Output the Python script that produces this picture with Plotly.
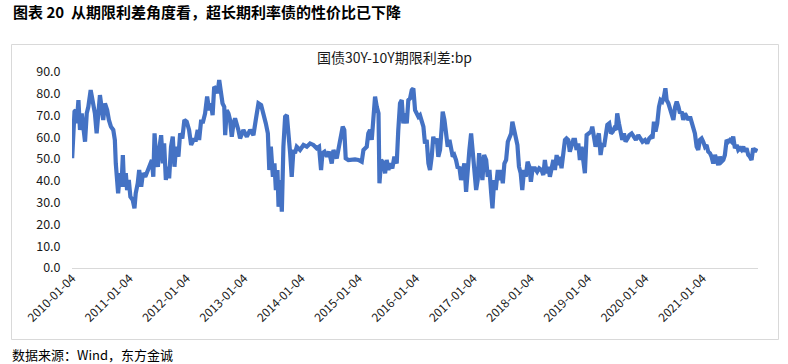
import plotly.graph_objects as go

W, H = 788, 364

dates = [
"2010-01-04","2010-01-07","2010-01-19","2010-01-27","2010-02-02","2010-02-13","2010-02-23","2010-03-06","2010-03-17","2010-03-27",
"2010-04-07","2010-04-17","2010-05-02","2010-05-14","2010-05-29","2010-06-09","2010-06-19","2010-06-30","2010-07-10","2010-07-21",
"2010-08-01","2010-08-15","2010-08-26","2010-09-08","2010-09-23","2010-10-03","2010-10-09","2010-10-18","2010-10-24","2010-11-04",
"2010-11-14","2010-11-23","2010-12-01","2010-12-12","2010-12-20","2010-12-31","2011-01-10","2011-01-25","2011-02-05","2011-02-13",
"2011-02-26","2011-03-07","2011-03-20","2011-03-31","2011-04-15","2011-05-02","2011-05-17","2011-05-27","2011-06-05","2011-06-13",
"2011-06-24","2011-07-04","2011-07-15","2011-07-25","2011-08-05","2011-08-13","2011-08-24","2011-09-03","2011-09-14","2011-09-26",
"2011-10-07","2011-10-18","2011-10-28","2011-11-12","2011-11-23","2011-12-07","2011-12-20","2012-01-04","2012-01-19","2012-02-01",
"2012-02-16","2012-03-02","2012-03-14","2012-03-23","2012-04-04","2012-04-17","2012-04-30","2012-05-13","2012-05-26","2012-06-06",
"2012-06-17","2012-06-27","2012-07-08","2012-07-18","2012-07-29","2012-08-08","2012-08-19","2012-08-30","2012-09-05","2012-09-15",
"2012-09-26","2012-10-06","2012-10-17","2012-10-28",
"2012-11-07","2012-11-28","2012-12-09","2012-12-30","2013-01-21","2013-02-11","2013-03-04","2013-03-19","2013-04-05","2013-04-22",
"2013-05-07","2013-05-22","2013-06-04","2013-06-13","2013-06-23","2013-07-06","2013-07-16","2013-07-25","2013-08-04","2013-08-11",
"2013-08-21","2013-09-01","2013-09-11","2013-09-22","2013-10-03","2013-10-13","2013-10-24","2013-11-03","2013-11-14","2013-11-24",
"2013-12-05","2013-12-26","2014-01-17","2014-02-07","2014-02-28","2014-03-21","2014-04-11","2014-04-26","2014-05-09","2014-05-18",
"2014-05-31","2014-06-15","2014-06-29","2014-07-16","2014-07-27","2014-08-07","2014-08-17","2014-08-31","2014-09-13","2014-09-24",
"2014-10-04","2014-10-13","2014-10-30","2014-11-20","2014-12-11","2015-01-02","2015-01-23","2015-02-03","2015-02-13","2015-02-24",
"2015-03-06","2015-03-17","2015-03-28","2015-04-08","2015-04-18","2015-04-29","2015-05-10","2015-05-16","2015-05-27","2015-06-10",
"2015-06-21","2015-07-01","2015-07-12","2015-07-22","2015-08-06","2015-08-19","2015-09-03","2015-09-13","2015-09-24","2015-10-05",
"2015-10-15",
"2015-10-26","2015-11-06","2015-11-16","2015-11-27","2015-12-08","2015-12-18","2015-12-29","2016-01-08","2016-01-19","2016-01-29",
"2016-02-09","2016-02-20","2016-03-01","2016-03-12","2016-03-23","2016-04-02","2016-04-13","2016-04-23","2016-05-04","2016-05-15",
"2016-05-25","2016-06-05","2016-06-16","2016-06-22","2016-07-03","2016-07-13","2016-07-24","2016-08-04","2016-08-14","2016-08-25",
"2016-09-04","2016-09-15","2016-09-26","2016-10-06","2016-10-17","2016-10-27","2016-11-07","2016-11-18","2016-11-28","2016-12-09",
"2016-12-20","2016-12-30","2017-01-10","2017-01-21","2017-01-31","2017-02-09","2017-02-19","2017-03-02","2017-03-13","2017-03-26",
"2017-04-05","2017-04-16","2017-04-27","2017-05-05","2017-05-16","2017-05-26","2017-06-08","2017-06-19","2017-06-29","2017-07-10",
"2017-07-20","2017-07-31","2017-08-11","2017-08-21","2017-09-01","2017-09-09","2017-09-20","2017-09-30","2017-10-11","2017-10-21",
"2017-11-01","2017-11-11","2017-11-22","2017-12-03","2017-12-15","2017-12-26","2018-01-05","2018-01-16","2018-01-31","2018-02-14",
"2018-02-27","2018-03-14","2018-03-25","2018-04-04","2018-04-15","2018-04-26","2018-05-06","2018-05-17","2018-05-28","2018-06-07",
"2018-06-18","2018-06-28","2018-07-09","2018-07-19","2018-07-30","2018-08-10","2018-08-20","2018-08-31","2018-09-10","2018-09-21",
"2018-10-02",
"2018-10-13","2018-10-23","2018-11-03","2018-11-13","2018-11-24","2018-12-04","2018-12-15","2018-12-26","2019-01-10","2019-01-23",
"2019-01-31","2019-02-11","2019-02-21","2019-03-04","2019-03-14","2019-03-25","2019-04-05","2019-04-16","2019-04-26","2019-05-07",
"2019-05-19","2019-05-30","2019-06-10","2019-06-20","2019-07-01","2019-07-09","2019-07-20","2019-07-31","2019-08-10","2019-08-21",
"2019-08-31","2019-09-13","2019-09-24","2019-10-09","2019-10-23","2019-11-05","2019-11-20","2019-12-04","2019-12-17","2020-01-02",
"2020-01-16","2020-01-29","2020-02-09","2020-02-19","2020-02-28","2020-03-09","2020-03-20","2020-03-31","2020-04-10","2020-04-21",
"2020-05-02","2020-05-11","2020-05-19","2020-05-30","2020-06-10","2020-06-20","2020-07-01","2020-07-12","2020-07-22","2020-08-02",
"2020-08-12","2020-08-23","2020-09-02","2020-09-13","2020-09-23","2020-10-04","2020-10-15","2020-10-25","2020-11-05","2020-11-15",
"2020-11-26","2020-12-06","2020-12-17","2020-12-28","2021-01-07","2021-01-18","2021-01-28","2021-02-08","2021-02-19","2021-03-01",
"2021-03-12","2021-03-23","2021-04-02","2021-04-13","2021-04-23","2021-05-04","2021-05-15","2021-05-25","2021-06-05","2021-06-16",
"2021-06-26","2021-07-07","2021-07-17","2021-07-28","2021-08-08","2021-08-18","2021-08-29","2021-09-08","2021-09-19","2021-09-29",
"2021-10-10","2021-10-21","2021-10-31","2021-11-11","2021-11-21","2021-12-02","2021-12-13",
]

spread_bp = [
50.4,57.2,71.8,72.5,66.4,77.1,63.4,71.0,63.4,58.0,
71.0,74.0,81.7,75.6,71.0,61.8,71.0,79.4,74.0,68.0,
75.6,72.5,68.0,64.9,63.4,58.8,48.0,41.9,34.3,43.5,
37.3,51.9,37.3,43.6,35.8,40.4,32.7,31.2,27.4,34.3,
38.9,45.0,37.3,43.5,41.9,45.0,47.3,49.6,41.9,61.8,
49.6,46.5,55.7,61.0,48.0,57.2,40.4,46.5,41.2,55.7,
60.3,46.5,55.7,51.1,61.8,59.5,68.0,67.2,63.4,56.5,
58.8,58.8,63.4,58.8,67.2,67.2,71.0,78.7,72.5,75.6,
70.2,83.2,82.5,80.2,86.3,80.2,75.6,74.0,61.0,72.5,
71.0,68.0,60.3,66.4,
68.7,63.4,59.5,63.4,60.3,63.4,61.0,68.0,75.6,74.8,
71.0,66.4,61.8,45.0,55.7,41.9,48.0,35.8,45.0,28.1,
40.4,25.9,55.7,69.5,70.2,63.4,52.7,41.9,54.2,52.7,
55.7,54.2,56.5,55.7,57.2,56.5,55.0,55.7,45.0,52.7,
53.4,51.1,53.4,48.0,54.2,51.9,50.4,55.7,60.3,64.9,
63.4,50.4,49.6,49.9,49.9,49.6,48.8,54.2,55.0,55.7,
61.8,63.4,58.8,71.0,78.7,74.0,71.0,38.9,49.6,48.0,
43.5,49.6,45.0,48.0,45.8,51.1,48.0,63.4,75.6,77.1,
66.4,
71.0,66.4,77.1,77.9,81.7,82.5,72.5,71.0,69.5,70.2,
67.2,64.9,57.2,58.8,48.0,45.0,51.1,60.3,57.2,59.5,
51.1,54.2,64.9,71.8,68.0,60.3,55.7,58.8,55.7,51.1,
51.9,49.6,45.8,46.5,40.4,45.0,48.0,35.0,46.5,54.2,
61.8,52.7,45.0,35.8,40.4,52.7,48.0,40.4,51.9,49.6,
41.9,45.0,34.3,27.4,40.4,35.8,45.0,40.4,45.0,38.9,
48.0,49.6,58.0,59.5,61.8,67.2,63.4,59.5,56.5,46.5,
43.5,35.8,45.0,41.9,48.8,46.5,39.6,45.8,45.8,44.2,
45.8,45.0,42.7,49.6,43.5,46.5,41.9,45.8,49.6,45.0,
51.9,47.3,51.1,45.8,51.1,58.8,59.5,58.8,53.4,57.2,
58.8,
58.8,54.2,57.2,49.6,55.7,50.4,43.5,61.0,61.8,62.6,
64.9,60.3,55.7,59.5,61.8,51.9,57.2,55.7,60.3,65.7,
66.4,61.8,62.6,64.1,63.4,71.0,66.4,63.4,58.8,61.8,
58.0,59.5,61.0,61.8,60.3,58.8,61.0,59.5,58.0,58.8,
57.2,59.5,60.3,59.5,67.2,62.6,66.4,74.0,77.1,76.4,
78.7,82.5,77.1,75.6,72.5,71.0,68.0,74.0,76.4,74.0,
71.0,71.8,68.0,71.0,69.5,68.0,69.5,66.4,63.4,61.8,
55.7,54.2,58.8,59.5,58.0,55.7,56.5,53.4,52.7,51.1,
48.0,51.9,49.6,47.3,51.1,48.8,49.6,51.9,58.8,58.0,
58.8,58.0,60.3,55.0,56.5,54.2,55.0,54.2,55.7,53.4,
55.0,51.9,51.1,49.6,55.0,53.4,55.0,
]

tick_dates = ["2010-01-04","2011-01-04","2012-01-04","2013-01-04","2014-01-04","2015-01-04",
              "2016-01-04","2017-01-04","2018-01-04","2019-01-04","2020-01-04","2021-01-04"]
tick_labels = tick_dates
y_ticks = [0, 10, 20, 30, 40, 50, 60, 70, 80, 90]

series_name = "国债30Y-10Y期限利差:bp"
main_title = "图表 20  从期限利差角度看，超长期利率债的性价比已下降"
source_text = "数据来源：Wind，东方金诚"

FONT = "Noto Sans CJK SC, Microsoft YaHei, sans-serif"
TXT = "#1a1a1a"
GRAY = "#d9d9d9"

fig = go.Figure()
fig.add_trace(go.Scatter(
    x=dates, y=spread_bp, mode="lines", name=series_name,
    line=dict(color="#4472C4", width=4.2, shape="linear"),
    showlegend=False, hoverinfo="x+y",
))

def px(x):
    return x / W

def py(y):
    return 1 - y / H

fig.update_layout(
    width=W, height=H, autosize=False,
    margin=dict(l=0, r=0, t=0, b=0, pad=0, autoexpand=False),
    paper_bgcolor="white", plot_bgcolor="white",
    font=dict(family=FONT, color=TXT, size=12),
    xaxis=dict(
        domain=[px(72), px(758)],
        range=["2010-01-03", "2021-12-22"],
        tickmode="array", tickvals=tick_dates, ticktext=tick_labels,
        tickangle=-45, tickfont=dict(size=12, color=TXT, family=FONT),
        showgrid=False, zeroline=False, automargin=False,
        showline=False, ticks="",
    ),
    yaxis=dict(
        domain=[py(268), py(72)],
        range=[0, 90],
        tickmode="array", tickvals=y_ticks,
        tickformat=".1f", automargin=False,
        tickfont=dict(size=12.5, color=TXT, family=FONT),
        showgrid=False, zeroline=True, zerolinecolor=GRAY, zerolinewidth=1.3,
        showline=False, ticks="outside", ticklen=8, tickcolor="rgba(0,0,0,0)",
    ),
    shapes=[
        dict(type="rect", xref="paper", yref="paper",
             x0=px(11.5), x1=px(778.5), y0=py(339.5), y1=py(44.5),
             line=dict(color=GRAY, width=1), fillcolor="rgba(0,0,0,0)", layer="below"),
    ],
    annotations=[
        dict(text="<b>" + main_title + "</b>", x=px(11), y=py(11), xref="paper", yref="paper",
             xanchor="left", yanchor="middle", showarrow=False,
             font=dict(size=15, color="#000000", family=FONT)),
        dict(text=series_name, x=px(394), y=py(57), xref="paper", yref="paper",
             xanchor="center", yanchor="middle", showarrow=False,
             font=dict(size=14, color=TXT, family=FONT)),
        dict(text=source_text, x=px(10), y=py(354), xref="paper", yref="paper",
             xanchor="left", yanchor="middle", showarrow=False,
             font=dict(size=13, color="#000000", family=FONT)),
    ],
)

fig.write_html(
    "out.html",
    config={"displayModeBar": False},
    post_script="document.body.style.margin='0';document.body.style.overflow='hidden';",
)
